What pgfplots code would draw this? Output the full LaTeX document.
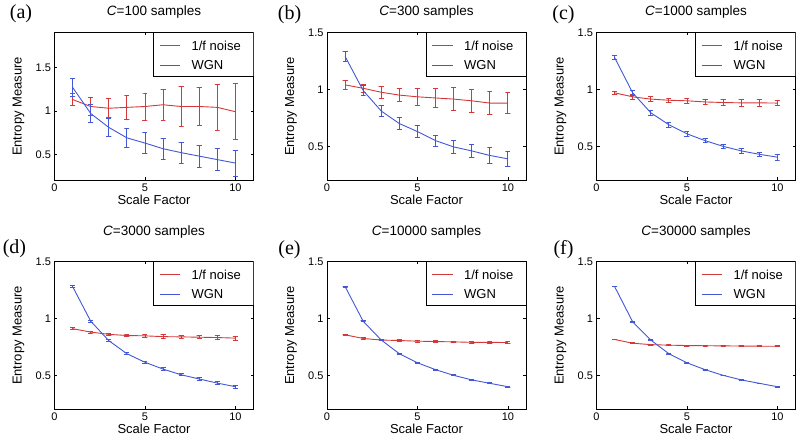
\documentclass[border=0pt]{standalone}
\usepackage{pgfplots}
\pgfplotsset{compat=1.18}
\usepackage{fontspec}
\setmainfont{Liberation Sans}
\newfontfamily\serifpanel{Liberation Serif}

\definecolor{myred}{RGB}{212,56,56}
\definecolor{myblue}{RGB}{66,88,214}

\pgfplotsset{
  panel/.style={
    anchor=south west,
    scale only axis,
    width=199pt, height=148pt,
    xmin=0, xmax=11, ymin=0.2, ymax=1.5,
    xtick={0,5,10}, ytick={0.5,1,1.5},
    minor tick num=0,
    tick align=inside,
    major tick length=3pt,
    axis line style={line width=0.6pt},
    tick style={line width=0.6pt, draw=black},
    /pgf/number format/assume math mode=true,
    tick label style={font=\fontsize{11}{13}\selectfont},
    label style={font=\fontsize{13}{15}\selectfont},
    title style={font=\fontsize{13.5}{15}\selectfont, anchor=center, at={(rel axis cs:0.5,1)}, yshift=14.5pt},
    xlabel={Scale Factor},
    ylabel={Entropy Measure},
    xlabel style={anchor=center, at={(rel axis cs:0.5,0)}, yshift=-19pt},
    ylabel style={anchor=center, at={(rel axis cs:0,0.5)}, yshift=36pt},
    unbounded coords=jump,
  },
  bottomrow/.style={title style={yshift=9pt}},
  noise/.style={color=myred, draw=myred, line width=0.9pt, mark=none},
  wgn/.style={color=myblue, draw=myblue, line width=0.9pt, mark=none},
  errnoise/.style={color=myred, draw=myred, line width=0.9pt, mark=none},
  errwgn/.style={color=myblue, draw=myblue, line width=0.9pt, mark=none},
}
% legend box in the upper right corner of each axis
\newcommand{\legendbox}{%
  \draw[draw=black, fill=white, line width=0.5pt] (axis description cs:0.4975,0.7027) rectangle (axis description cs:1,1);
  \draw[color=myred, draw=myred, line width=1pt] (axis description cs:0.528,0.912) -- (axis description cs:0.633,0.912);
  \draw[color=myblue, draw=myblue, line width=1pt] (axis description cs:0.528,0.777) -- (axis description cs:0.633,0.777);
  \node[anchor=west, inner sep=0pt, text=black, font=\fontsize{13}{15}\selectfont] at (axis description cs:0.688,0.912) {1/f noise};
  \node[anchor=west, inner sep=0pt, text=black, font=\fontsize{13}{15}\selectfont] at (axis description cs:0.688,0.777) {WGN};}

\begin{document}
\begin{tikzpicture}[x=1pt,y=1pt]
\path[use as bounding box] (0,0) rectangle (798,444);

% (a) C=100
\begin{axis}[panel, at={(54.5pt,263.5pt)}, ymax=1.9, title={\textit{C}=100 samples}]
\addplot[noise] coordinates {(1,1.13) (2,1.05) (3,1.03) (4,1.04) (5,1.05) (6,1.07) (7,1.05) (8,1.05) (9,1.04) (10,0.99)};
\addplot[errnoise] coordinates {
(0.86,1.06) (1.14,1.06) (1,1.06) (1,1.20) (0.86,1.20) (1.14,1.20) (1,nan)
(1.86,0.95) (2.14,0.95) (2,0.95) (2,1.15) (1.86,1.15) (2.14,1.15) (2,nan)
(2.86,0.92) (3.14,0.92) (3,0.92) (3,1.14) (2.86,1.14) (3.14,1.14) (3,nan)
(3.86,0.90) (4.14,0.90) (4,0.90) (4,1.18) (3.86,1.18) (4.14,1.18) (4,nan)
(4.86,0.895) (5.14,0.895) (5,0.895) (5,1.205) (4.86,1.205) (5.14,1.205) (5,nan)
(5.86,0.895) (6.14,0.895) (6,0.895) (6,1.245) (5.86,1.245) (6.14,1.245) (6,nan)
(6.86,0.82) (7.14,0.82) (7,0.82) (7,1.28) (6.86,1.28) (7.14,1.28) (7,nan)
(7.86,0.83) (8.14,0.83) (8,0.83) (8,1.27) (7.86,1.27) (8.14,1.27) (8,nan)
(8.86,0.78) (9.14,0.78) (9,0.78) (9,1.30) (8.86,1.30) (9.14,1.30) (9,nan)
(9.86,0.67) (10.14,0.67) (10,0.67) (10,1.31) (9.86,1.31) (10.14,1.31)};
\addplot[wgn] coordinates {(1,1.27) (2,0.97) (3,0.81) (4,0.69) (5,0.63) (6,0.565) (7,0.52) (8,0.48) (9,0.44) (10,0.40)};
\addplot[errwgn] coordinates {
(0.86,1.17) (1.14,1.17) (1,1.17) (1,1.37) (0.86,1.37) (1.14,1.37) (1,nan)
(1.86,0.87) (2.14,0.87) (2,0.87) (2,1.07) (1.86,1.07) (2.14,1.07) (2,nan)
(2.86,0.71) (3.14,0.71) (3,0.71) (3,0.91) (2.86,0.91) (3.14,0.91) (3,nan)
(3.86,0.58) (4.14,0.58) (4,0.58) (4,0.80) (3.86,0.80) (4.14,0.80) (4,nan)
(4.86,0.505) (5.14,0.505) (5,0.505) (5,0.755) (4.86,0.755) (5.14,0.755) (5,nan)
(5.86,0.445) (6.14,0.445) (6,0.445) (6,0.685) (5.86,0.685) (6.14,0.685) (6,nan)
(6.86,0.40) (7.14,0.40) (7,0.40) (7,0.64) (6.86,0.64) (7.14,0.64) (7,nan)
(7.86,0.355) (8.14,0.355) (8,0.355) (8,0.605) (7.86,0.605) (8.14,0.605) (8,nan)
(8.86,0.31) (9.14,0.31) (9,0.31) (9,0.57) (8.86,0.57) (9.14,0.57) (9,nan)
(9.86,0.25) (10.14,0.25) (10,0.25) (10,0.55) (9.86,0.55) (10.14,0.55)};
\legendbox
\end{axis}

% (b) C=300
\begin{axis}[panel, at={(327pt,263.5pt)}, title={\textit{C}=300 samples}]
\addplot[noise] coordinates {(1,1.04) (2,1.01) (3,0.975) (4,0.95) (5,0.935) (6,0.925) (7,0.915) (8,0.90) (9,0.88) (10,0.88)};
\addplot[errnoise] coordinates {
(0.86,1.00) (1.14,1.00) (1,1.00) (1,1.08) (0.86,1.08) (1.14,1.08) (1,nan)
(1.86,0.977) (2.14,0.977) (2,0.977) (2,1.043) (1.86,1.043) (2.14,1.043) (2,nan)
(2.86,0.925) (3.14,0.925) (3,0.925) (3,1.025) (2.86,1.025) (3.14,1.025) (3,nan)
(3.86,0.895) (4.14,0.895) (4,0.895) (4,1.005) (3.86,1.005) (4.14,1.005) (4,nan)
(4.86,0.86) (5.14,0.86) (5,0.86) (5,1.01) (4.86,1.01) (5.14,1.01) (5,nan)
(5.86,0.84) (6.14,0.84) (6,0.84) (6,1.01) (5.86,1.01) (6.14,1.01) (6,nan)
(6.86,0.815) (7.14,0.815) (7,0.815) (7,1.015) (6.86,1.015) (7.14,1.015) (7,nan)
(7.86,0.80) (8.14,0.80) (8,0.80) (8,1.00) (7.86,1.00) (8.14,1.00) (8,nan)
(8.86,0.78) (9.14,0.78) (9,0.78) (9,0.98) (8.86,0.98) (9.14,0.98) (9,nan)
(9.86,0.785) (10.14,0.785) (10,0.785) (10,0.975) (9.86,0.975) (10.14,0.975)};
\addplot[wgn] coordinates {(1,1.29) (2,0.99) (3,0.81) (4,0.70) (5,0.63) (6,0.55) (7,0.495) (8,0.46) (9,0.42) (10,0.39)};
\addplot[errwgn] coordinates {
(0.86,1.245) (1.14,1.245) (1,1.245) (1,1.335) (0.86,1.335) (1.14,1.335) (1,nan)
(1.86,0.945) (2.14,0.945) (2,0.945) (2,1.035) (1.86,1.035) (2.14,1.035) (2,nan)
(2.86,0.76) (3.14,0.76) (3,0.76) (3,0.86) (2.86,0.86) (3.14,0.86) (3,nan)
(3.86,0.645) (4.14,0.645) (4,0.645) (4,0.755) (3.86,0.755) (4.14,0.755) (4,nan)
(4.86,0.577) (5.14,0.577) (5,0.577) (5,0.683) (4.86,0.683) (5.14,0.683) (5,nan)
(5.86,0.50) (6.14,0.50) (6,0.50) (6,0.60) (5.86,0.60) (6.14,0.60) (6,nan)
(6.86,0.435) (7.14,0.435) (7,0.435) (7,0.555) (6.86,0.555) (7.14,0.555) (7,nan)
(7.86,0.403) (8.14,0.403) (8,0.403) (8,0.517) (7.86,0.517) (8.14,0.517) (8,nan)
(8.86,0.35) (9.14,0.35) (9,0.35) (9,0.49) (8.86,0.49) (9.14,0.49) (9,nan)
(9.86,0.325) (10.14,0.325) (10,0.325) (10,0.455) (9.86,0.455) (10.14,0.455)};
\legendbox
\end{axis}

% (c) C=1000
\begin{axis}[panel, at={(596.5pt,263.5pt)}, title={\textit{C}=1000 samples}]
\addplot[noise] coordinates {(1,0.97) (2,0.935) (3,0.915) (4,0.905) (5,0.90) (6,0.89) (7,0.885) (8,0.882) (9,0.882) (10,0.88)};
\addplot[errnoise] coordinates {
(0.86,0.955) (1.14,0.955) (1,0.955) (1,0.985) (0.86,0.985) (1.14,0.985) (1,nan)
(1.86,0.915) (2.14,0.915) (2,0.915) (2,0.955) (1.86,0.955) (2.14,0.955) (2,nan)
(2.86,0.895) (3.14,0.895) (3,0.895) (3,0.935) (2.86,0.935) (3.14,0.935) (3,nan)
(3.86,0.885) (4.14,0.885) (4,0.885) (4,0.925) (3.86,0.925) (4.14,0.925) (4,nan)
(4.86,0.88) (5.14,0.88) (5,0.88) (5,0.92) (4.86,0.92) (5.14,0.92) (5,nan)
(5.86,0.865) (6.14,0.865) (6,0.865) (6,0.915) (5.86,0.915) (6.14,0.915) (6,nan)
(6.86,0.86) (7.14,0.86) (7,0.86) (7,0.91) (6.86,0.91) (7.14,0.91) (7,nan)
(7.86,0.854) (8.14,0.854) (8,0.854) (8,0.91) (7.86,0.91) (8.14,0.91) (8,nan)
(8.86,0.854) (9.14,0.854) (9,0.854) (9,0.91) (8.86,0.91) (9.14,0.91) (9,nan)
(9.86,0.855) (10.14,0.855) (10,0.855) (10,0.905) (9.86,0.905) (10.14,0.905)};
\addplot[wgn] coordinates {(1,1.28) (2,0.97) (3,0.795) (4,0.69) (5,0.61) (6,0.55) (7,0.50) (8,0.46) (9,0.43) (10,0.405)};
\addplot[errwgn] coordinates {
(0.86,1.26) (1.14,1.26) (1,1.26) (1,1.30) (0.86,1.30) (1.14,1.30) (1,nan)
(1.86,0.95) (2.14,0.95) (2,0.95) (2,0.99) (1.86,0.99) (2.14,0.99) (2,nan)
(2.86,0.775) (3.14,0.775) (3,0.775) (3,0.815) (2.86,0.815) (3.14,0.815) (3,nan)
(3.86,0.67) (4.14,0.67) (4,0.67) (4,0.71) (3.86,0.71) (4.14,0.71) (4,nan)
(4.86,0.588) (5.14,0.588) (5,0.588) (5,0.632) (4.86,0.632) (5.14,0.632) (5,nan)
(5.86,0.53) (6.14,0.53) (6,0.53) (6,0.57) (5.86,0.57) (6.14,0.57) (6,nan)
(6.86,0.48) (7.14,0.48) (7,0.48) (7,0.52) (6.86,0.52) (7.14,0.52) (7,nan)
(7.86,0.44) (8.14,0.44) (8,0.44) (8,0.48) (7.86,0.48) (8.14,0.48) (8,nan)
(8.86,0.41) (9.14,0.41) (9,0.41) (9,0.45) (8.86,0.45) (9.14,0.45) (9,nan)
(9.86,0.38) (10.14,0.38) (10,0.38) (10,0.43) (9.86,0.43) (10.14,0.43)};
\legendbox
\end{axis}

% (d) C=3000
\begin{axis}[panel, bottomrow, at={(54.5pt,34.5pt)}, title={\textit{C}=3000 samples}]
\addplot[noise] coordinates {(1,0.91) (2,0.88) (3,0.86) (4,0.85) (5,0.847) (6,0.84) (7,0.838) (8,0.835) (9,0.832) (10,0.827)};
\addplot[errnoise] coordinates {
(0.86,0.902) (1.14,0.902) (1,0.902) (1,0.918) (0.86,0.918) (1.14,0.918) (1,nan)
(1.86,0.872) (2.14,0.872) (2,0.872) (2,0.888) (1.86,0.888) (2.14,0.888) (2,nan)
(2.86,0.85) (3.14,0.85) (3,0.85) (3,0.87) (2.86,0.87) (3.14,0.87) (3,nan)
(3.86,0.838) (4.14,0.838) (4,0.838) (4,0.862) (3.86,0.862) (4.14,0.862) (4,nan)
(4.86,0.832) (5.14,0.832) (5,0.832) (5,0.862) (4.86,0.862) (5.14,0.862) (5,nan)
(5.86,0.825) (6.14,0.825) (6,0.825) (6,0.855) (5.86,0.855) (6.14,0.855) (6,nan)
(6.86,0.823) (7.14,0.823) (7,0.823) (7,0.853) (6.86,0.853) (7.14,0.853) (7,nan)
(7.86,0.82) (8.14,0.82) (8,0.82) (8,0.85) (7.86,0.85) (8.14,0.85) (8,nan)
(8.86,0.817) (9.14,0.817) (9,0.817) (9,0.847) (8.86,0.847) (9.14,0.847) (9,nan)
(9.86,0.809) (10.14,0.809) (10,0.809) (10,0.845) (9.86,0.845) (10.14,0.845)};
\addplot[wgn] coordinates {(1,1.28) (2,0.976) (3,0.805) (4,0.69) (5,0.615) (6,0.555) (7,0.505) (8,0.468) (9,0.432) (10,0.40)};
\addplot[errwgn] coordinates {
(0.86,1.27) (1.14,1.27) (1,1.27) (1,1.29) (0.86,1.29) (1.14,1.29) (1,nan)
(1.86,0.966) (2.14,0.966) (2,0.966) (2,0.986) (1.86,0.986) (2.14,0.986) (2,nan)
(2.86,0.795) (3.14,0.795) (3,0.795) (3,0.815) (2.86,0.815) (3.14,0.815) (3,nan)
(3.86,0.68) (4.14,0.68) (4,0.68) (4,0.70) (3.86,0.70) (4.14,0.70) (4,nan)
(4.86,0.605) (5.14,0.605) (5,0.605) (5,0.625) (4.86,0.625) (5.14,0.625) (5,nan)
(5.86,0.545) (6.14,0.545) (6,0.545) (6,0.565) (5.86,0.565) (6.14,0.565) (6,nan)
(6.86,0.495) (7.14,0.495) (7,0.495) (7,0.515) (6.86,0.515) (7.14,0.515) (7,nan)
(7.86,0.458) (8.14,0.458) (8,0.458) (8,0.478) (7.86,0.478) (8.14,0.478) (8,nan)
(8.86,0.42) (9.14,0.42) (9,0.42) (9,0.444) (8.86,0.444) (9.14,0.444) (9,nan)
(9.86,0.388) (10.14,0.388) (10,0.388) (10,0.412) (9.86,0.412) (10.14,0.412)};
\legendbox
\end{axis}

% (e) C=10000
\begin{axis}[panel, bottomrow, at={(327pt,34.5pt)}, title={\textit{C}=10000 samples}]
\addplot[noise] coordinates {(1,0.856) (2,0.824) (3,0.81) (4,0.806) (5,0.80) (6,0.797) (7,0.794) (8,0.79) (9,0.79) (10,0.788)};
\addplot[errnoise] coordinates {
(0.86,0.851) (1.14,0.851) (1,0.851) (1,0.861) (0.86,0.861) (1.14,0.861) (1,nan)
(1.86,0.819) (2.14,0.819) (2,0.819) (2,0.829) (1.86,0.829) (2.14,0.829) (2,nan)
(2.86,0.804) (3.14,0.804) (3,0.804) (3,0.816) (2.86,0.816) (3.14,0.816) (3,nan)
(3.86,0.80) (4.14,0.80) (4,0.80) (4,0.812) (3.86,0.812) (4.14,0.812) (4,nan)
(4.86,0.793) (5.14,0.793) (5,0.793) (5,0.807) (4.86,0.807) (5.14,0.807) (5,nan)
(5.86,0.79) (6.14,0.79) (6,0.79) (6,0.804) (5.86,0.804) (6.14,0.804) (6,nan)
(6.86,0.786) (7.14,0.786) (7,0.786) (7,0.802) (6.86,0.802) (7.14,0.802) (7,nan)
(7.86,0.782) (8.14,0.782) (8,0.782) (8,0.798) (7.86,0.798) (8.14,0.798) (8,nan)
(8.86,0.782) (9.14,0.782) (9,0.782) (9,0.798) (8.86,0.798) (9.14,0.798) (9,nan)
(9.86,0.778) (10.14,0.778) (10,0.778) (10,0.798) (9.86,0.798) (10.14,0.798)};
\addplot[wgn] coordinates {(1,1.28) (2,0.975) (3,0.81) (4,0.69) (5,0.61) (6,0.55) (7,0.50) (8,0.46) (9,0.43) (10,0.40)};
\addplot[errwgn] coordinates {
(0.86,1.275) (1.14,1.275) (1,1.275) (1,1.285) (0.86,1.285) (1.14,1.285) (1,nan)
(1.86,0.97) (2.14,0.97) (2,0.97) (2,0.98) (1.86,0.98) (2.14,0.98) (2,nan)
(2.86,0.805) (3.14,0.805) (3,0.805) (3,0.815) (2.86,0.815) (3.14,0.815) (3,nan)
(3.86,0.685) (4.14,0.685) (4,0.685) (4,0.695) (3.86,0.695) (4.14,0.695) (4,nan)
(4.86,0.605) (5.14,0.605) (5,0.605) (5,0.615) (4.86,0.615) (5.14,0.615) (5,nan)
(5.86,0.545) (6.14,0.545) (6,0.545) (6,0.555) (5.86,0.555) (6.14,0.555) (6,nan)
(6.86,0.495) (7.14,0.495) (7,0.495) (7,0.505) (6.86,0.505) (7.14,0.505) (7,nan)
(7.86,0.455) (8.14,0.455) (8,0.455) (8,0.465) (7.86,0.465) (8.14,0.465) (8,nan)
(8.86,0.425) (9.14,0.425) (9,0.425) (9,0.435) (8.86,0.435) (9.14,0.435) (9,nan)
(9.86,0.394) (10.14,0.394) (10,0.394) (10,0.406) (9.86,0.406) (10.14,0.406)};
\legendbox
\end{axis}

% (f) C=30000
\begin{axis}[panel, bottomrow, at={(596.5pt,34.5pt)}, title={\textit{C}=30000 samples}]
\addplot[noise] coordinates {(1,0.815) (2,0.782) (3,0.77) (4,0.765) (5,0.762) (6,0.76) (7,0.759) (8,0.757) (9,0.756) (10,0.755)};
\addplot[errnoise] coordinates {
(0.86,0.811) (1.14,0.811) (1,0.811) (1,0.819) (0.86,0.819) (1.14,0.819) (1,nan)
(1.86,0.778) (2.14,0.778) (2,0.778) (2,0.786) (1.86,0.786) (2.14,0.786) (2,nan)
(2.86,0.766) (3.14,0.766) (3,0.766) (3,0.774) (2.86,0.774) (3.14,0.774) (3,nan)
(3.86,0.761) (4.14,0.761) (4,0.761) (4,0.769) (3.86,0.769) (4.14,0.769) (4,nan)
(4.86,0.758) (5.14,0.758) (5,0.758) (5,0.766) (4.86,0.766) (5.14,0.766) (5,nan)
(5.86,0.756) (6.14,0.756) (6,0.756) (6,0.764) (5.86,0.764) (6.14,0.764) (6,nan)
(6.86,0.755) (7.14,0.755) (7,0.755) (7,0.763) (6.86,0.763) (7.14,0.763) (7,nan)
(7.86,0.753) (8.14,0.753) (8,0.753) (8,0.761) (7.86,0.761) (8.14,0.761) (8,nan)
(8.86,0.752) (9.14,0.752) (9,0.752) (9,0.760) (8.86,0.760) (9.14,0.760) (9,nan)
(9.86,0.751) (10.14,0.751) (10,0.751) (10,0.759) (9.86,0.759) (10.14,0.759)};
\addplot[wgn] coordinates {(1,1.28) (2,0.97) (3,0.81) (4,0.69) (5,0.61) (6,0.55) (7,0.50) (8,0.46) (9,0.43) (10,0.40)};
\addplot[errwgn] coordinates {
(0.86,1.277) (1.14,1.277) (1,1.277) (1,1.283) (0.86,1.283) (1.14,1.283) (1,nan)
(1.86,0.967) (2.14,0.967) (2,0.967) (2,0.973) (1.86,0.973) (2.14,0.973) (2,nan)
(2.86,0.807) (3.14,0.807) (3,0.807) (3,0.813) (2.86,0.813) (3.14,0.813) (3,nan)
(3.86,0.687) (4.14,0.687) (4,0.687) (4,0.693) (3.86,0.693) (4.14,0.693) (4,nan)
(4.86,0.607) (5.14,0.607) (5,0.607) (5,0.613) (4.86,0.613) (5.14,0.613) (5,nan)
(5.86,0.547) (6.14,0.547) (6,0.547) (6,0.553) (5.86,0.553) (6.14,0.553) (6,nan)
(6.86,0.497) (7.14,0.497) (7,0.497) (7,0.503) (6.86,0.503) (7.14,0.503) (7,nan)
(7.86,0.457) (8.14,0.457) (8,0.457) (8,0.463) (7.86,0.463) (8.14,0.463) (8,nan)
(8.86,0.427) (9.14,0.427) (9,0.427) (9,0.433) (8.86,0.433) (9.14,0.433) (9,nan)
(9.86,0.397) (10.14,0.397) (10,0.397) (10,0.403) (9.86,0.403) (10.14,0.403)};
\legendbox
\end{axis}

% panel letters
\node[font=\serifpanel\fontsize{20}{22}\selectfont] at (21,430.5) {(a)};
\node[font=\serifpanel\fontsize{20}{22}\selectfont] at (289.5,429) {(b)};
\node[font=\serifpanel\fontsize{20}{22}\selectfont] at (563.5,429) {(c)};
\node[font=\serifpanel\fontsize{20}{22}\selectfont] at (14.5,195.5) {(d)};
\node[font=\serifpanel\fontsize{20}{22}\selectfont] at (289.5,194.5) {(e)};
\node[font=\serifpanel\fontsize{20}{22}\selectfont] at (563.5,194.5) {(f)};
\end{tikzpicture}
\end{document}
